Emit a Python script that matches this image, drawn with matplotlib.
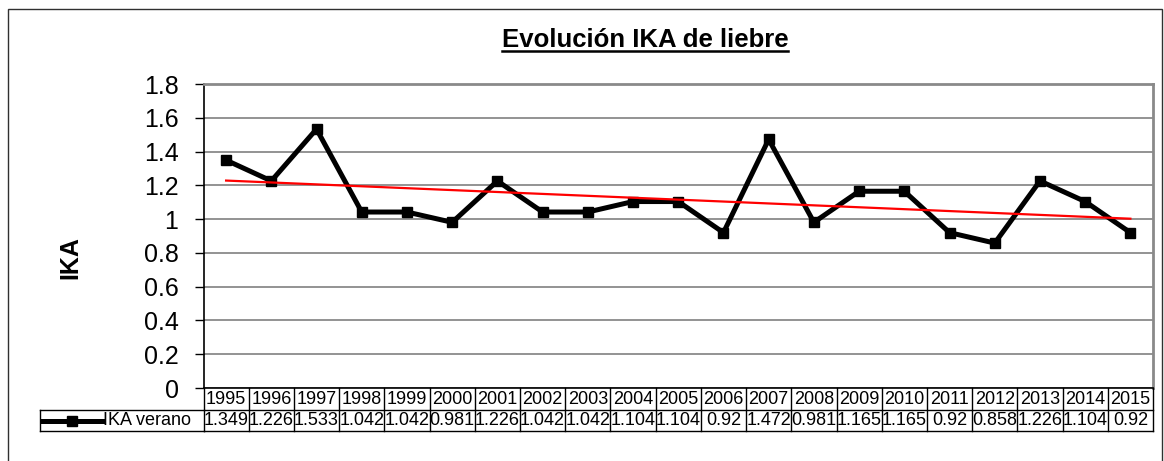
import matplotlib
matplotlib.use("Agg")
import matplotlib.pyplot as plt
import matplotlib.transforms as mtransforms
from matplotlib.lines import Line2D
from matplotlib.patches import Rectangle
import numpy as np

plt.rcParams["font.family"] = ["Liberation Sans", "DejaVu Sans"]

years = [1995, 1996, 1997, 1998, 1999, 2000, 2001, 2002, 2003, 2004, 2005,
         2006, 2007, 2008, 2009, 2010, 2011, 2012, 2013, 2014, 2015]
ika_verano = [1.349, 1.226, 1.533, 1.042, 1.042, 0.981, 1.226, 1.042, 1.042,
              1.104, 1.104, 0.92, 1.472, 0.981, 1.165, 1.165, 0.92, 0.858,
              1.226, 1.104, 0.92]
value_labels = ["1.349", "1.226", "1.533", "1.042", "1.042", "0.981", "1.226",
                "1.042", "1.042", "1.104", "1.104", "0.92", "1.472", "0.981",
                "1.165", "1.165", "0.92", "0.858", "1.226", "1.104", "0.92"]
series_name = "IKA verano"
title = "Evolución IKA de liebre"
y_ticks = [0, 0.2, 0.4, 0.6, 0.8, 1, 1.2, 1.4, 1.6, 1.8]

W, H = 1164, 461
fig = plt.figure(figsize=(W / 100, H / 100), dpi=100)


def fy(py):
    # pixel row (from top) -> figure fraction
    return 1 - py / H


def fx(px):
    return px / W


# outer chart frame
fig.patches.append(Rectangle((fx(8), fy(470)), fx(1162) - fx(8), fy(9) - fy(470),
                             transform=fig.transFigure, fill=False,
                             edgecolor="#303030", lw=1.0, zorder=0))

left, right, top, bottom = 203.5, 1153, 84, 388
ax = fig.add_axes([fx(left), fy(bottom), fx(right) - fx(left), fy(top) - fy(bottom)])

x = np.arange(len(years))
ax.set_xlim(-0.5, len(years) - 0.5)
ax.set_ylim(0, 1.8)
ax.set_yticks(y_ticks)
ax.set_yticklabels([f"{v:g}" for v in y_ticks], fontsize=18)
ax.set_xticks([])
ax.tick_params(axis="y", direction="out", length=6.5, width=1, color="black", pad=11.5)
ax.yaxis.grid(True, color="#808080", lw=1.2)
ax.set_axisbelow(True)
for side in ("top", "right"):
    ax.spines[side].set_color("#8a8a8a")
    ax.spines[side].set_linewidth(2)
ax.spines["left"].set_color("black")
ax.spines["bottom"].set_color("black")
ax.spines["left"].set_linewidth(1.2)
ax.spines["bottom"].set_linewidth(1.2)

ax.plot(x, ika_verano, color="black", lw=3.6, marker="s", markersize=7,
        solid_joinstyle="miter", zorder=3)

# linear trend
slope, intercept = np.polyfit(x, ika_verano, 1)
ax.plot(x, slope * x + intercept, color="#ff0000", lw=1.6, zorder=4)

# y label, placed a bit below the axis centre
fig.text(fx(70), fy(258), "IKA", rotation=90, ha="center", va="center",
         fontsize=18, fontweight="bold")

# data table under the plot
trans = mtransforms.blended_transform_factory(ax.transData, fig.transFigure)
r0, r1, r2 = fy(388), fy(410), fy(431)
for i in range(len(years) + 1):
    xe = i - 0.5
    fig.add_artist(Line2D([xe, xe], [r2, r0], transform=trans, color="black", lw=1))
fig.add_artist(Line2D([-0.5, len(years) - 0.5], [r1, r1], transform=trans,
                      color="black", lw=1))
fig.add_artist(Line2D([-0.5, len(years) - 0.5], [r2, r2], transform=trans,
                      color="black", lw=1))
for i, (yr, lab) in enumerate(zip(years, value_labels)):
    fig.text(i, (r0 + r1) / 2, str(yr), transform=trans, ha="center",
             va="center", fontsize=13)
    fig.text(i, (r1 + r2) / 2, lab, transform=trans, ha="center",
             va="center", fontsize=13)

# legend cell
lx0 = fx(40)
fig.add_artist(Line2D([lx0, fx(left)], [r1, r1], transform=fig.transFigure,
                      color="black", lw=1))
fig.add_artist(Line2D([lx0, fx(left)], [r2, r2], transform=fig.transFigure,
                      color="black", lw=1))
fig.add_artist(Line2D([lx0, lx0], [r2, r1], transform=fig.transFigure,
                      color="black", lw=1))
ym = (r1 + r2) / 2
fig.add_artist(Line2D([fx(42), fx(102)], [ym, ym], transform=fig.transFigure,
                      color="black", lw=3.6))
fig.add_artist(Line2D([fx(72)], [ym], transform=fig.transFigure, color="black",
                      marker="s", markersize=7, lw=0))
fig.text(fx(103), ym, series_name, ha="left", va="center", fontsize=13)

# underlined title
t = fig.text(fx(645), fy(47), title, ha="center", va="baseline",
             fontsize=18.5, fontweight="bold")
fig.canvas.draw()
bb = t.get_window_extent(renderer=fig.canvas.get_renderer())
fig.add_artist(Line2D([bb.x0 / W, bb.x1 / W], [fy(50.5), fy(50.5)],
                      transform=fig.transFigure, color="black", lw=1.8))

fig.savefig("out.png", dpi=100)
